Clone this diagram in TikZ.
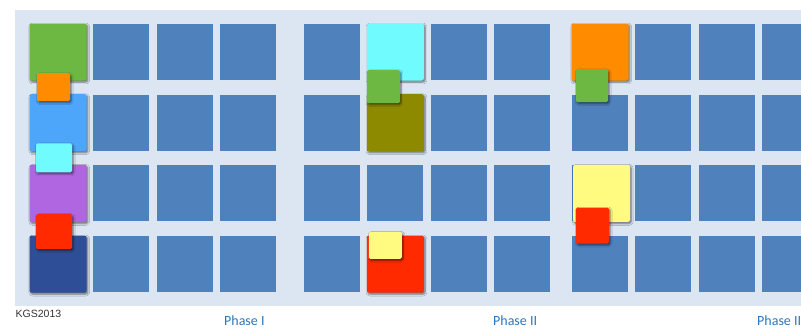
\documentclass[tikz,border=0pt]{standalone}
\usepackage{fontspec}
\setmainfont{Carlito}
\newfontfamily\tagfont{Liberation Sans}
\definecolor{panel}{HTML}{DCE6F2}
\definecolor{cell}{HTML}{4F81BD}
\definecolor{phase}{HTML}{2E75B6}
\definecolor{tgreen}{HTML}{6DB842}
\definecolor{tsky}{HTML}{4DA6FA}
\definecolor{tviolet}{HTML}{B066E0}
\definecolor{tnavy}{HTML}{2F4E98}
\definecolor{torange}{HTML}{FF8C00}
\definecolor{tcyan}{HTML}{70FCFF}
\definecolor{tred}{HTML}{FF2A00}
\definecolor{tolive}{HTML}{8E8A00}
\definecolor{tyellow}{HTML}{FFFA80}
\usepackage{tikz}
\usetikzlibrary{shadows.blur,calc,positioning}
\tikzset{
  cell_box/.style={fill=cell,minimum size=56pt,inner sep=0pt},
  task_box/.style={rounded corners=2pt,minimum size=57pt,inner sep=0pt,
    blur shadow={shadow xshift=1.2pt,shadow yshift=-1.5pt,shadow blur steps=6,shadow opacity=55}},
  tok_box/.style={rounded corners=1.5pt,inner sep=0pt,
    blur shadow={shadow xshift=1.2pt,shadow yshift=-1.5pt,shadow blur steps=5,shadow opacity=55}},
  phase_text/.style={anchor=base west,inner sep=0pt,text=phase,font=\fontsize{14}{16}\selectfont},
  tag_text/.style={anchor=base west,inner sep=0pt,text=black!80,font=\tagfont\fontsize{10.5}{12}\selectfont},
}
\begin{document}
\begin{tikzpicture}[x=1pt,y=-1pt]
  \useasboundingbox (0,0) rectangle (801,327);
  \fill[panel] (15,9.5) rectangle (801,306);
  % grid of cells, one block per phase
  \foreach \p/\x in {1/58,2/332,3/600}
    \foreach \c in {1,...,4}
      \foreach \r in {1,...,4}
        \node[cell_box] (p\p r\r c\c) at ({\x+(\c-1)*63.3},{52+(\r-1)*70.7}) {};
  % phase I
  \node[task_box,fill=tgreen] (g1) at (p1r1c1) {};
  \node[task_box,fill=tsky] (s1) at (p1r2c1) {};
  \node[task_box,fill=tviolet] (v1) at (p1r3c1) {};
  \node[task_box,fill=tnavy] (n1) at (p1r4c1) {};
  \node[tok_box,fill=torange,minimum width=33pt,minimum height=28pt] (o1) at ($(p1r1c1.south)+(-4.5,7)$) {};
  \node[tok_box,fill=tcyan,minimum width=36pt,minimum height=29pt] (c1) at ($(p1r2c1.south)+(-4,7)$) {};
  \node[tok_box,fill=tred,minimum width=36pt,minimum height=35pt] (r1) at ($(p1r3c1.south)+(-4,10)$) {};
  % phase II
  \node[task_box,fill=tcyan] (c2) at (p2r1c2) {};
  \node[task_box,fill=tolive] (l2) at (p2r2c2) {};
  \node[task_box,fill=tred] (r2) at (p2r4c2) {};
  \node[tok_box,fill=tgreen,minimum width=33pt,minimum height=33pt] (g2) at ($(p2r1c2.south)+(-12,6.5)$) {};
  \node[tok_box,fill=tyellow,minimum width=33pt,minimum height=27pt] (y2) at ($(p2r4c2.north)+(-10,9.5)$) {};
  % phase III
  \node[task_box,fill=torange] (o3) at (p3r1c1) {};
  \node[task_box,fill=tyellow] (y3) at ($(p3r3c1)+(1.5,0)$) {};
  \node[tok_box,fill=tgreen,minimum width=32pt,minimum height=33pt] (g3) at ($(p3r1c1.south)+(-8,5.5)$) {};
  \node[tok_box,fill=tred,minimum width=33pt,minimum height=36pt] (r3) at ($(p3r3c1.south)+(-7.5,4)$) {};
  % labels
  \node[tag_text] (kgs) at (15.5,317) {KGS2013};
  \node[phase_text] (ph1) at (224,325) {Phase I};
  \node[phase_text] (ph2) at (493,325) {Phase II};
  \node[phase_text] (ph3) at (757,325) {Phase III};
\end{tikzpicture}
\end{document}
